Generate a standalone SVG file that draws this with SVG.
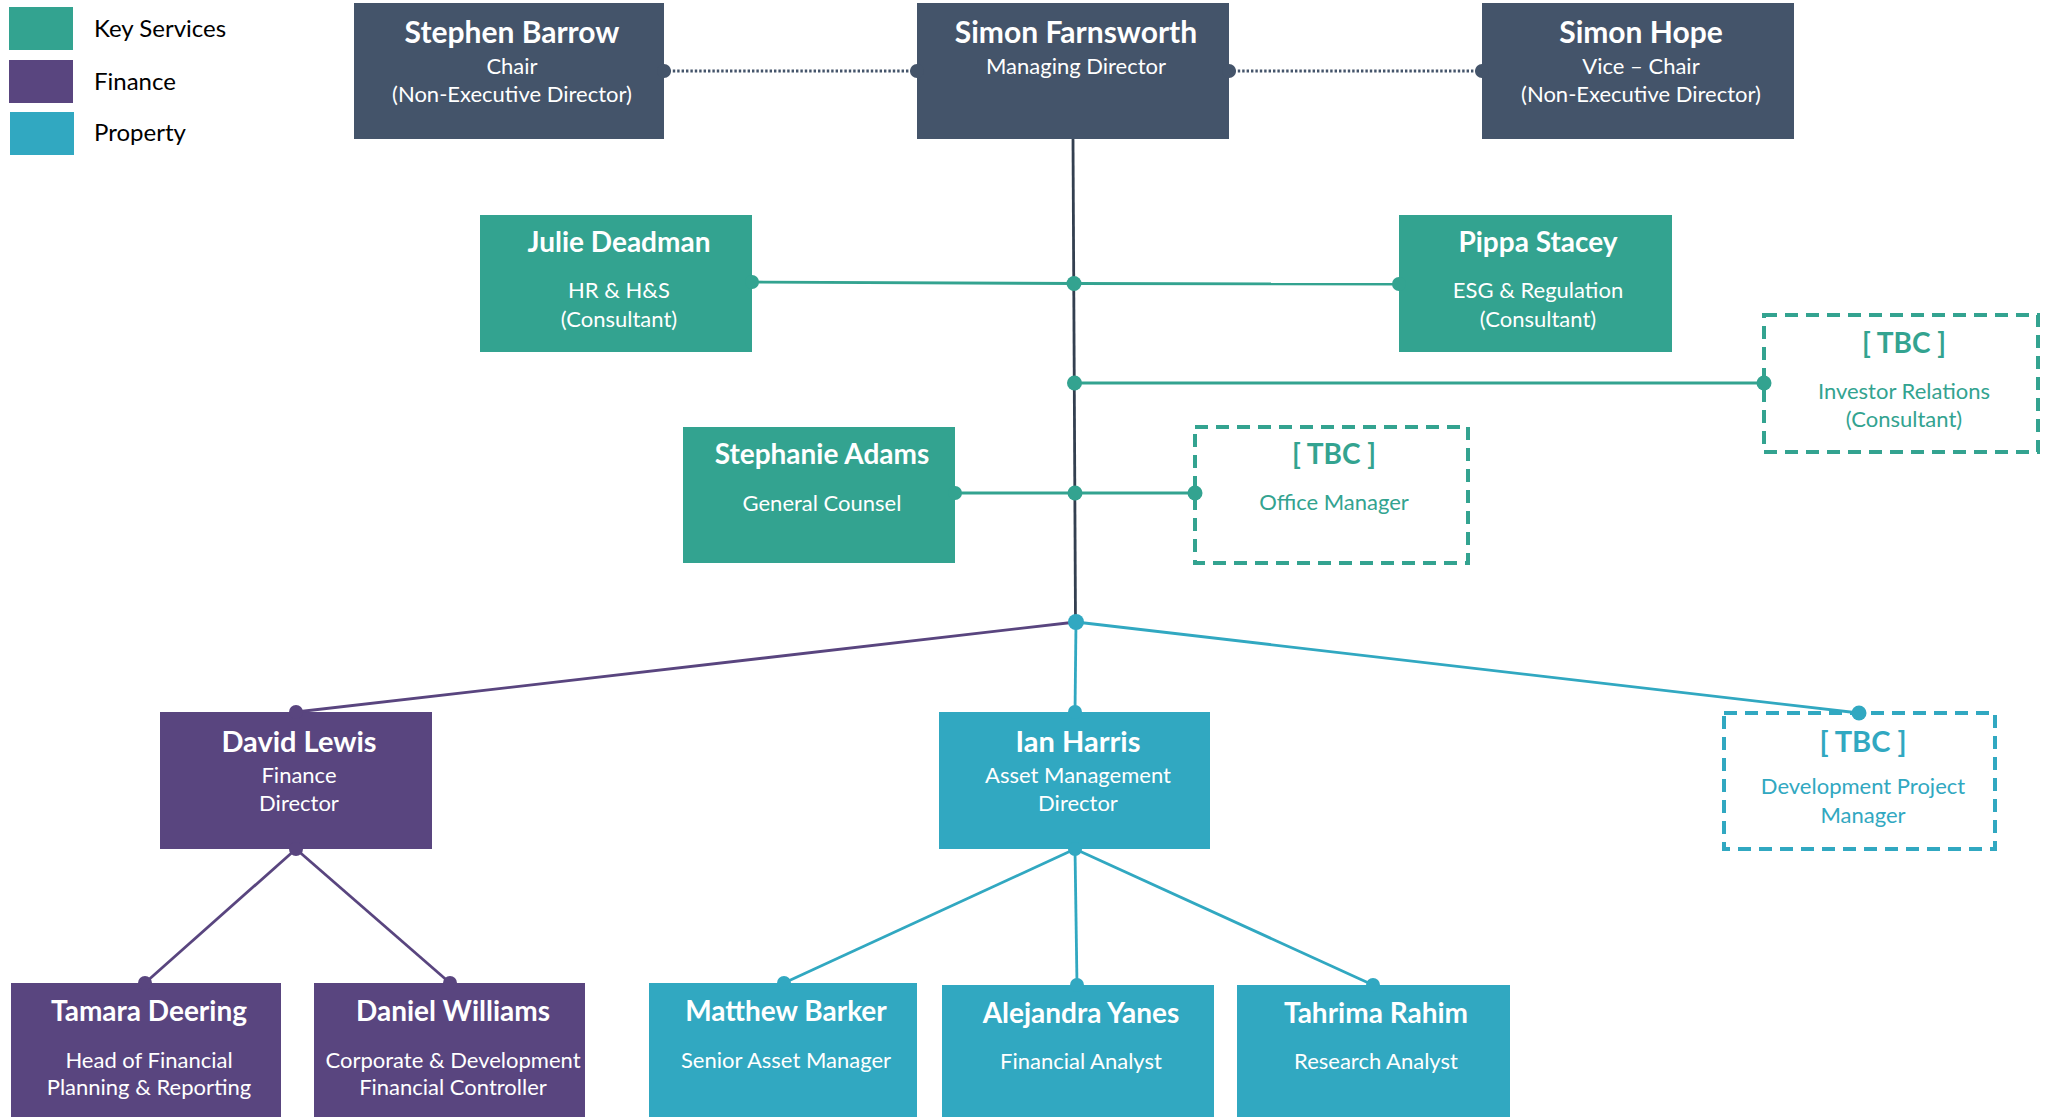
<svg xmlns="http://www.w3.org/2000/svg" width="2054" height="1117" viewBox="0 0 2054 1117">
<style>
  text { font-family: Lato, "Open Sans", "Liberation Sans", sans-serif; text-anchor: middle; }
  .nm { font-size: 28px; font-weight: bold; fill: #ffffff; }
  .nm-top { font-size: 30px; }
  .nm-mid { font-size: 29px; }
  .sb { font-size: 22px; fill: #ffffff; }
  .lg { font-size: 24px; fill: #000000; text-anchor: start; }
  .dark { fill: #44546A; }
  .ks { fill: #33A390; }
  .fin { fill: #59457F; }
  .prop { fill: #31A8C1; }
  .tbc-ks { fill: #ffffff; stroke: #33A390; stroke-width: 4; stroke-dasharray: 13 8; }
  .tbc-pr { fill: #ffffff; stroke: #31A8C1; stroke-width: 4; stroke-dasharray: 13 8; }
  .tks { fill: #33A390; }
  .tpr { fill: #31A8C1; }
  .ln { fill: none; stroke-width: 2.8; }
  .l-dot { stroke: #44546A; stroke-width: 2.8; stroke-dasharray: 2.4 2; fill: none; }
  .l-trunk { stroke: #333F50; }
  .l-ks { stroke: #33A390; }
  .l-fin { stroke: #59457F; }
  .l-pr { stroke: #31A8C1; }
</style>

<g id="legend">
  <rect x="9" y="7" width="64" height="43" class="ks"/>
  <rect x="9" y="60" width="64" height="43" class="fin"/>
  <rect x="10" y="112" width="64" height="43" class="prop"/>
  <text x="94" y="37" class="lg">Key Services</text>
  <text x="94" y="90" class="lg">Finance</text>
  <text x="94" y="141" class="lg">Property</text>
</g>

<g id="node-stephen-barrow">
  <rect x="354" y="3" width="310" height="136" class="dark"/>
  <text x="512" y="43" class="nm nm-top">Stephen Barrow</text>
  <text x="512" y="74" class="sb">Chair</text>
  <text x="512" y="102" class="sb">(Non-Executive Director)</text>
</g>
<g id="node-simon-farnsworth">
  <rect x="917" y="3" width="312" height="136" class="dark"/>
  <text x="1076" y="43" class="nm nm-top">Simon Farnsworth</text>
  <text x="1076" y="74" class="sb">Managing Director</text>
</g>
<g id="node-simon-hope">
  <rect x="1482" y="3" width="312" height="136" class="dark"/>
  <text x="1641" y="43" class="nm nm-top">Simon Hope</text>
  <text x="1641" y="74" class="sb">Vice – Chair</text>
  <text x="1641" y="102" class="sb">(Non-Executive Director)</text>
</g>

<g id="node-julie-deadman">
  <rect x="480" y="215" width="272" height="137" class="ks"/>
  <text x="619" y="252" class="nm">Julie Deadman</text>
  <text x="619" y="298" class="sb">HR &amp; H&amp;S</text>
  <text x="619" y="327" class="sb">(Consultant)</text>
</g>
<g id="node-pippa-stacey">
  <rect x="1399" y="215" width="273" height="137" class="ks"/>
  <text x="1538" y="252" class="nm">Pippa Stacey</text>
  <text x="1538" y="298" class="sb">ESG &amp; Regulation</text>
  <text x="1538" y="327" class="sb">(Consultant)</text>
</g>
<g id="node-tbc-investor-relations">
  <rect x="1764" y="315" width="274" height="137" class="tbc-ks"/>
  <text x="1904" y="353" class="nm tks">[ TBC ]</text>
  <text x="1904" y="399" class="sb tks">Investor Relations</text>
  <text x="1904" y="427" class="sb tks">(Consultant)</text>
</g>
<g id="node-stephanie-adams">
  <rect x="683" y="427" width="272" height="136" class="ks"/>
  <text x="822" y="464" class="nm">Stephanie Adams</text>
  <text x="822" y="511" class="sb">General Counsel</text>
</g>
<g id="node-tbc-office-manager">
  <rect x="1195" y="427" width="273" height="136" class="tbc-ks"/>
  <text x="1334" y="464" class="nm tks">[ TBC ]</text>
  <text x="1334" y="510" class="sb tks">Office Manager</text>
</g>

<g id="node-david-lewis">
  <rect x="160" y="712" width="272" height="137" class="fin"/>
  <text x="299" y="752" class="nm nm-mid">David Lewis</text>
  <text x="299" y="783" class="sb">Finance</text>
  <text x="299" y="811" class="sb">Director</text>
</g>
<g id="node-ian-harris">
  <rect x="939" y="712" width="271" height="137" class="prop"/>
  <text x="1078" y="752" class="nm nm-mid">Ian Harris</text>
  <text x="1078" y="783" class="sb">Asset Management</text>
  <text x="1078" y="811" class="sb">Director</text>
</g>
<g id="node-tbc-development-project-manager">
  <rect x="1724" y="713" width="271" height="136" class="tbc-pr"/>
  <text x="1863" y="752" class="nm nm-mid tpr">[ TBC ]</text>
  <text x="1863" y="794" class="sb tpr">Development Project</text>
  <text x="1863" y="823" class="sb tpr">Manager</text>
</g>

<g id="node-tamara-deering">
  <rect x="11" y="983" width="270" height="140" class="fin"/>
  <text x="149" y="1021" class="nm">Tamara Deering</text>
  <text x="149" y="1068" class="sb">Head of Financial</text>
  <text x="149" y="1095" class="sb">Planning &amp; Reporting</text>
</g>
<g id="node-daniel-williams">
  <rect x="314" y="983" width="271" height="140" class="fin"/>
  <text x="453" y="1021" class="nm">Daniel Williams</text>
  <text x="453" y="1068" class="sb">Corporate &amp; Development</text>
  <text x="453" y="1095" class="sb">Financial Controller</text>
</g>
<g id="node-matthew-barker">
  <rect x="649" y="983" width="268" height="140" class="prop"/>
  <text x="786" y="1021" class="nm">Matthew Barker</text>
  <text x="786" y="1068" class="sb">Senior Asset Manager</text>
</g>
<g id="node-alejandra-yanes">
  <rect x="942" y="985" width="272" height="140" class="prop"/>
  <text x="1081" y="1023" class="nm">Alejandra Yanes</text>
  <text x="1081" y="1069" class="sb">Financial Analyst</text>
</g>
<g id="node-tahrima-rahim">
  <rect x="1237" y="985" width="273" height="140" class="prop"/>
  <text x="1376" y="1023" class="nm">Tahrima Rahim</text>
  <text x="1376" y="1069" class="sb">Research Analyst</text>
</g>

<g id="connectors">
  <line x1="664" y1="71" x2="917" y2="71" class="l-dot"/>
  <line x1="1229" y1="71" x2="1482" y2="71" class="l-dot"/>
  <line x1="1073" y1="139" x2="1075.5" y2="622" class="ln l-trunk"/>
  <line x1="752" y1="282" x2="1074" y2="283.5" class="ln l-ks"/>
  <line x1="1074" y1="283.5" x2="1399" y2="284" class="ln l-ks"/>
  <line x1="1074" y1="383" x2="1764" y2="383" class="ln l-ks"/>
  <line x1="955" y1="493" x2="1195" y2="493" class="ln l-ks"/>
  <line x1="1076" y1="622" x2="296" y2="712" class="ln l-fin"/>
  <line x1="1076" y1="622" x2="1075" y2="712" class="ln l-pr" stroke-width="2.2"/>
  <line x1="1076" y1="622" x2="1859" y2="713" class="ln l-pr"/>
  <line x1="296" y1="849" x2="145" y2="983" class="ln l-fin" stroke-width="2.4"/>
  <line x1="296" y1="849" x2="450" y2="983" class="ln l-fin" stroke-width="2.4"/>
  <line x1="1075" y1="849" x2="784" y2="983" class="ln l-pr" stroke-width="2.4"/>
  <line x1="1075" y1="849" x2="1077" y2="985" class="ln l-pr" stroke-width="2.2"/>
  <line x1="1075" y1="849" x2="1373" y2="985" class="ln l-pr" stroke-width="2.4"/>
  <g class="dark">
    <circle cx="664" cy="71" r="7"/>
    <circle cx="917" cy="71" r="7"/>
    <circle cx="1229" cy="71" r="7"/>
    <circle cx="1482" cy="71" r="7"/>
  </g>
  <g class="ks">
    <circle cx="752" cy="282" r="7"/>
    <circle cx="1399" cy="284" r="7"/>
    <circle cx="955" cy="493" r="7"/>
    <circle cx="1764" cy="383" r="7.5"/>
    <circle cx="1195" cy="493" r="7.5"/>
    <circle cx="1074" cy="283.5" r="7.5"/>
    <circle cx="1074.5" cy="383" r="7.5"/>
    <circle cx="1075" cy="493" r="7.5"/>
  </g>
  <g class="fin">
    <circle cx="296" cy="712" r="7"/>
    <circle cx="296" cy="849" r="7"/>
    <circle cx="145" cy="983" r="7"/>
    <circle cx="450" cy="983" r="7"/>
  </g>
  <g class="prop">
    <circle cx="1076" cy="622" r="8"/>
    <circle cx="1075" cy="712" r="7"/>
    <circle cx="1075" cy="849" r="7"/>
    <circle cx="1859" cy="713" r="7.5"/>
    <circle cx="784" cy="983" r="7"/>
    <circle cx="1077" cy="985" r="7"/>
    <circle cx="1373" cy="985" r="7"/>
  </g>
</g>
</svg>
